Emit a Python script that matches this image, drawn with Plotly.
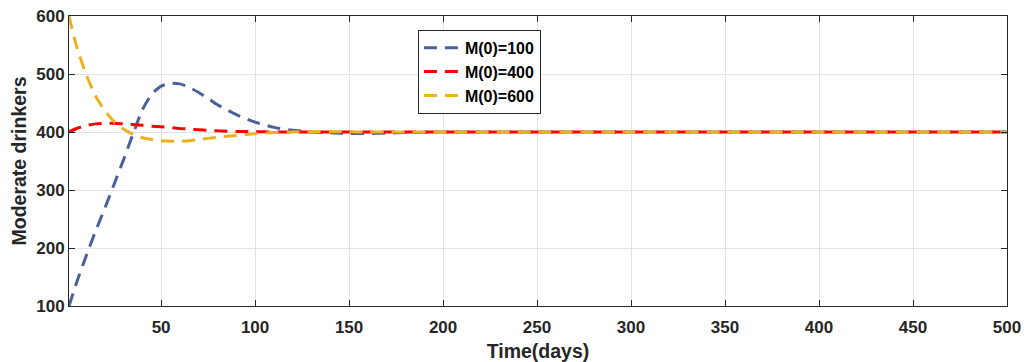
import plotly.graph_objects as go

time_days = [1, 5, 10, 15, 20, 25, 30, 35, 40, 45, 50, 55, 60, 65, 70, 75, 80, 90, 100,
             110, 120, 130, 140, 150, 160, 170, 180, 200, 250, 300, 350, 400, 450, 500]
m100 = [100, 140, 185, 228, 268, 310, 352, 396, 438, 465, 479, 484, 483, 477, 468, 458, 447, 430, 417,
        408, 403, 400, 398.5, 397.5, 397.5, 398, 399, 400, 400, 400, 400, 400, 400, 400]
m400 = [400, 406, 411, 414, 415, 415, 414, 413, 411.5, 410, 409, 407.5, 406, 405, 404, 403, 402, 401, 400.5,
        400, 400, 400, 400, 400, 400, 400, 400, 400, 400, 400, 400, 400, 400, 400]
m600 = [600, 548, 500, 463, 437, 418, 405, 396, 390, 387, 385, 384, 384, 385, 387, 389, 391, 394, 397,
        399, 400, 400.5, 400.5, 400.3, 400, 400, 400, 400, 400, 400, 400, 400, 400, 400]

names = ["M(0)=100", "M(0)=400", "M(0)=600"]
colors = ["#4A6298", "#FF0000", "#EDB120"]
series = [m100, m400, m600]

FONT = "Liberation Sans, Arial, sans-serif"

fig = go.Figure()
for nm, c, ys in zip(names, colors, series):
    fig.add_trace(go.Scatter(x=time_days, y=ys, mode="lines", name=nm,
                             line=dict(color=c, width=3, dash="13px,8px", shape="spline", smoothing=0.6)))

tickfont = dict(family=FONT, size=17, color="#262626", weight="bold")
titlefont = dict(family=FONT, size=19.5, color="#262626", weight="bold")
fig.update_layout(
    width=1024, height=362,
    margin=dict(l=69, r=17, t=16, b=56),
    paper_bgcolor="white", plot_bgcolor="white",
    showlegend=True,
    legend=dict(x=0.372, y=0.952, xanchor="left", yanchor="top",
                bgcolor="white", bordercolor="#262626", borderwidth=1,
                font=dict(family=FONT, size=16, color="#000000", weight="bold"),
                tracegroupgap=0, itemwidth=36, entrywidth=110, entrywidthmode="pixels"),
    xaxis=dict(range=[1, 500], tickvals=[50, 100, 150, 200, 250, 300, 350, 400, 450, 500],
               automargin=False, ticklabelstandoff=6,
               showgrid=True, gridcolor="#E3E3E3", gridwidth=1,
               showline=True, linecolor="#262626", linewidth=1, mirror="ticks",
               ticks="inside", ticklen=6, tickcolor="#262626",
               tickfont=tickfont, zeroline=False,
               title=dict(text="Time(days)", font=titlefont, standoff=8)),
    yaxis=dict(range=[100, 600], tickvals=[100, 200, 300, 400, 500, 600],
               automargin=False,
               showgrid=True, gridcolor="#E3E3E3", gridwidth=1,
               showline=True, linecolor="#262626", linewidth=1, mirror="ticks",
               ticks="inside", ticklen=6, tickcolor="#262626",
               tickfont=tickfont, zeroline=False,
               title=dict(text="Moderate drinkers", font=titlefont, standoff=4)),
)
fig.write_html("out.html")
